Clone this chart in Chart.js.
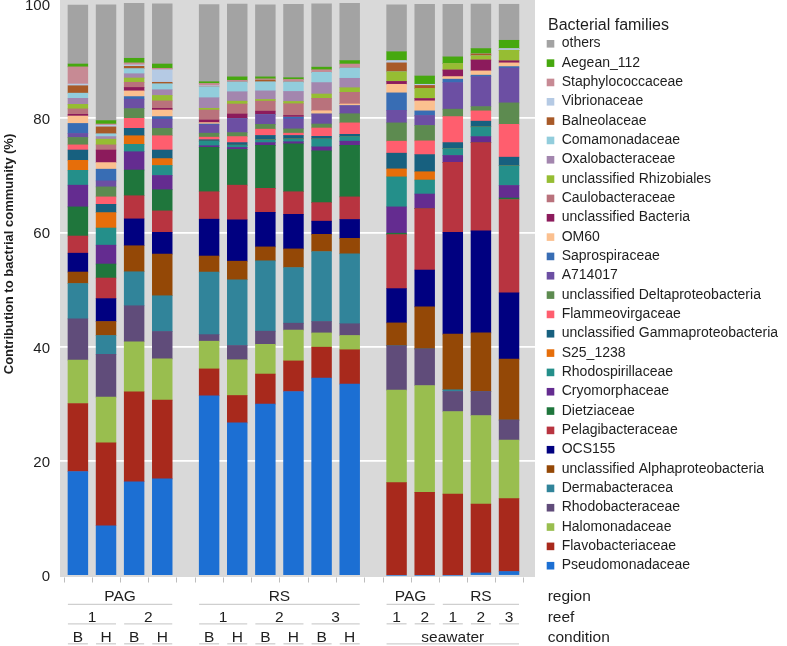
<!DOCTYPE html>
<html><head><meta charset="utf-8">
<script src="https://cdn.jsdelivr.net/npm/chart.js@4.4.1/dist/chart.umd.min.js"></script>
<style>html,body{margin:0;padding:0;background:#fff;}#wrap{width:787px;height:646px;}</style>
</head><body>
<div id="wrap"><canvas id="c" width="787" height="646"></canvas></div>
<script>
// ---- sample descriptors (15 bars) ----
const regions    = ['PAG','PAG','PAG','PAG','RS','RS','RS','RS','RS','RS','PAG','PAG','RS','RS','RS'];
const reefs      = ['1','1','2','2','1','1','2','2','3','3','1','2','1','2','3'];
const conditions = ['B','H','B','H','B','H','B','H','B','H','seawater','seawater','seawater','seawater','seawater'];
const blocks     = [0,0,0,0,1,1,1,1,1,1,2,2,2,2,2];
const yTicks     = [0,20,40,60,80,100];

// ---- families, bottom of stack first ----
const families = ['Pseudomonadaceae','Flavobacteriaceae','Halomonadaceae','Rhodobacteraceae','Dermabacteracea',
  'unclassified Alphaproteobacteria','OCS155','Pelagibacteraceae','Dietziaceae','Cryomorphaceae','Rhodospirillaceae',
  'S25_1238','unclassified Gammaproteobacteria','Flammeovirgaceae','unclassified Deltaproteobacteria','A714017',
  'Saprospiraceae','OM60','unclassified Bacteria','Caulobacteraceae','unclassified Rhizobiales','Oxalobacteraceae',
  'Comamonadaceae','Balneolaceae','Vibrionaceae','Staphylococcaceae','Aegean_112','others'];

const pseudomonadaceae  = [18.2,8.7,16.4,16.9,31.45,26.7,30.0,32.2,34.55,33.5,0,0,0,0.45,0.7];
const flavobacteriaceae = [11.9,14.5,15.75,13.8,4.7,4.8,5.25,5.35,5.4,6.0,16.25,14.55,14.25,12.05,12.75];
const halomonadaceae    = [7.6,8.0,8.75,7.2,4.85,6.25,5.2,5.4,2.5,2.5,16.2,18.7,14.45,15.5,10.25];
const rhodobacteraceae  = [7.2,7.5,6.3,4.8,1.15,2.5,2.3,1.2,2.0,2.05,7.75,6.4,3.5,4.2,3.5];
const dermabacteracea   = [6.2,3.3,5.95,6.25,10.95,11.5,12.3,9.75,12.25,12.25,0,0,0.3,0,0];
const uncAlpha          = [2.0,2.45,4.55,7.3,2.8,3.25,2.45,3.25,3.0,2.7,4.0,7.35,9.75,10.25,10.65];
const ocs155            = [3.3,4.0,4.7,3.8,6.45,7.25,6.05,6.05,2.3,3.3,6.0,6.45,17.8,17.85,11.6];
const pelagibacteraceae = [3.0,3.6,4.05,3.75,4.8,6.05,4.2,3.95,3.25,3.95,9.45,10.75,12.25,15.45,16.35];
const dietziaceae       = [5.1,2.45,4.5,3.7,7.75,6.25,7.5,8.4,9.05,9.0,0.25,0,0,0,0.25];
const cryomorphaceae    = [3.8,3.3,3.2,2.5,0.3,0.35,0.5,0.35,0.7,0.75,4.6,2.55,1.2,1.05,2.2];
const rhodospirillaceae = [2.6,3.0,1.3,1.75,0.8,0.4,0.5,0.5,1.4,0.8,5.25,2.45,1.2,1.7,3.45];
const s25_1238          = [1.75,2.7,1.5,1.2,0,0,0,0,0,0,1.4,1.45,0,0,0];
const uncGamma          = [1.8,1.45,1.3,1.5,0.25,0.45,0.75,0.6,0.45,0.4,2.75,3.0,1.05,1.0,1.5];
const flammeovirgaceae  = [0.9,1.3,1.75,2.5,0.45,1.05,1.1,0.4,1.45,2.0,2.1,2.4,4.55,1.8,5.75];
const uncDelta          = [1.3,1.75,1.7,1.3,0.7,0.7,0.85,0.75,0.7,1.6,3.2,2.7,1.3,0.75,3.75];
const a714017           = [0.7,1.05,1.65,1.6,1.45,2.45,1.7,1.75,1.75,1.4,2.2,1.75,4.65,5.25,6.1];
const saprospiraceae    = [1.75,2.05,0.45,0.45,0.15,0,0,0.3,0,0,3.05,0.8,0.6,0.25,0.25];
const om60              = [1.3,1.15,1.0,1.15,0.25,0,0,0,0.6,0.35,1.5,1.75,0.45,0.75,0.65];
const uncBacteria       = [0.3,2.2,0.6,0.3,0.45,0.8,0.6,0.3,0,0,0.5,0.4,1.15,1.9,0.35];
const caulobacteraceae  = [0.95,0.9,0.9,1.3,1.75,1.75,1.75,2.05,2.15,2.0,0,0,0,0,0];
const uncRhizobiales    = [0.8,1.0,0.75,0.95,0.3,0.5,0.3,0.4,0.75,0.8,1.7,1.8,1.15,0.75,1.85];
const oxalobacteraceae  = [1.05,0.45,0.75,1.0,1.85,1.65,1.5,1.75,2.0,1.65,0,0,0,0,0];
const comamonadaceae    = [0.9,0.5,0.9,1.05,1.9,1.7,1.6,1.65,1.8,1.8,0,0,0,0,0];
const balneolaceae      = [1.3,1.2,0.4,0.25,0,0,0.3,0,0,0,1.55,0.5,0,0.3,0];
const vibrionaceae      = [0.3,0.3,0.25,2.2,0.2,0,0,0,0,0,0.4,0.2,0,0,0.3];
const staphylococcaceae = [3.0,0.2,0.35,0.25,0.4,0.3,0.2,0.45,0.45,0.7,0,0,0,0,0];
const aegean_112        = [0.5,0.6,0.8,0.75,0.3,0.6,0.35,0.3,0.45,0.6,1.55,1.45,1.15,0.95,1.45];
const others            = [10.3,20.25,9.6,10.55,13.5,12.75,12.6,12.85,11.1,10.0,8.2,12.55,9.2,7.8,6.3];

const seriesValues = [pseudomonadaceae,flavobacteriaceae,halomonadaceae,rhodobacteraceae,dermabacteracea,
  uncAlpha,ocs155,pelagibacteraceae,dietziaceae,cryomorphaceae,rhodospirillaceae,s25_1238,uncGamma,
  flammeovirgaceae,uncDelta,a714017,saprospiraceae,om60,uncBacteria,caulobacteraceae,uncRhizobiales,
  oxalobacteraceae,comamonadaceae,balneolaceae,vibrionaceae,staphylococcaceae,aegean_112,others];

const colors = ['#1C6FD3','#A8291C','#99BE4F','#604C7A','#31849A','#944806','#000080','#B83440','#1F763C',
  '#642C90','#248F8A','#E66E0A','#17607F','#FF5E6E','#5D8B50','#6C4FA3','#386DB4','#FBC08F','#8C1B5C',
  '#B9727C','#96BD33','#A386AE','#92CDDC','#A85A28','#B5CAE4','#C78A94','#46A80F','#A3A3A3'];

// ---- layout helpers ----
const FONT = '"Liberation Sans", Arial, Helvetica, sans-serif';
const TEXT = '#1e1e1e';
const xPos = regions.map((_, i) => i * 3 + blocks[i] * 2);

const datasets = families.map((name, k) => ({
  label: name,
  data: seriesValues[k].map((v, i) => ({x: xPos[i], y: v})),
  backgroundColor: colors[k],
  borderWidth: 0,
  barThickness: 19.8
}));

const deco = {
  id: 'deco',
  beforeDraw(chart) {
    const {ctx, chartArea: a} = chart;
    ctx.save();
    ctx.fillStyle = '#D9D9D9';
    ctx.fillRect(a.left, a.top, a.right - a.left, a.bottom - a.top);
    ctx.restore();
  },
  afterDraw(chart) {
    const {ctx, chartArea: a} = chart;
    const xs = chart.scales.x;
    const px = v => xs.getPixelForValue(v);
    ctx.save();
    // tick marks between bars
    ctx.strokeStyle = '#BDBDBD'; ctx.lineWidth = 1;
    xPos.forEach((p, i) => {
      const ticks = [p - 1.5];
      if (i === xPos.length - 1 || blocks[i + 1] !== blocks[i]) ticks.push(p + 1.5);
      ticks.forEach(t => {
        const x = Math.round(px(t)) + 0.5;
        ctx.beginPath(); ctx.moveTo(x, a.bottom + 0.5); ctx.lineTo(x, a.bottom + 5.5); ctx.stroke();
      });
    });
    // nested x labels
    const rows = [
      {key: i => regions[i], text: i => regions[i], base: 600.7, line: 604.3},
      {key: i => regions[i] + '|' + reefs[i], text: i => reefs[i], base: 621.7, line: 623.8},
      {key: i => conditions[i], text: i => conditions[i], base: 641.7, line: 643.8}
    ];
    ctx.font = '15.5px ' + FONT;
    ctx.textBaseline = 'alphabetic';
    rows.forEach(r => {
      let s = 0;
      for (let i = 1; i <= xPos.length; i++) {
        if (i === xPos.length || blocks[i] !== blocks[s] || r.key(i) !== r.key(s)) {
          const x0 = px(xPos[s]), x1 = px(xPos[i - 1]);
          ctx.fillStyle = TEXT; ctx.textAlign = 'center';
          ctx.fillText(r.text(s), (x0 + x1) / 2, r.base);
          ctx.strokeStyle = '#CFCFCF'; ctx.lineWidth = 1.3;
          ctx.beginPath(); ctx.moveTo(x0 - 10, r.line); ctx.lineTo(x1 + 10, r.line); ctx.stroke();
          s = i;
        }
      }
    });
    ctx.textAlign = 'left'; ctx.fillStyle = TEXT;
    ctx.fillText('region', 547.7, 600.7);
    ctx.fillText('reef', 547.7, 621.7);
    ctx.fillText('condition', 547.7, 641.7);
    // legend
    ctx.font = '16px ' + FONT;
    ctx.fillText('Bacterial families', 548, 29.5);
    ctx.font = '14px ' + FONT;
    const ds = chart.data.datasets;
    for (let r = 0; r < ds.length; r++) {
      const d = ds[ds.length - 1 - r];
      const base = 47.3 + r * 19.33;
      ctx.fillStyle = d.backgroundColor;
      ctx.fillRect(546.7, base - 7.3, 7.6, 7.6);
      ctx.fillStyle = TEXT;
      ctx.fillText(d.label, 561.7, base);
    }
    // y title
    ctx.translate(13.3, 254);
    ctx.rotate(-Math.PI / 2);
    ctx.font = 'bold 13px ' + FONT;
    ctx.textAlign = 'center';
    ctx.fillText('Contribution to bactrial community (%)', 0, 0);
    ctx.restore();
  }
};

new Chart(document.getElementById('c'), {
  type: 'bar',
  data: {datasets},
  options: {
    responsive: false,
    devicePixelRatio: 1,
    animation: false,
    layout: {padding: {left: 0, right: 252, top: 0, bottom: 69}},
    plugins: {legend: {display: false}, tooltip: {enabled: false}},
    scales: {
      x: {type: 'linear', stacked: true, offset: false, min: -1.91, max: 48.77, display: false},
      y: {
        stacked: true, min: -0.26, max: 100.7,
        afterBuildTicks: s => { s.ticks = yTicks.map(v => ({value: v})); },
        afterFit: s => { s.width = 60; s.paddingTop = 0; s.paddingBottom = 0; },
        grid: {
          color: c => (c.tick && c.tick.value > 0 && c.tick.value < 100) ? '#FFFFFF' : 'rgba(0,0,0,0)',
          lineWidth: 1.8, drawTicks: false
        },
        border: {display: false},
        ticks: {padding: 10, labelOffset: 1.5, color: TEXT, font: {family: FONT, size: 15}}
      }
    }
  },
  plugins: [deco]
});
</script>
</body></html>
